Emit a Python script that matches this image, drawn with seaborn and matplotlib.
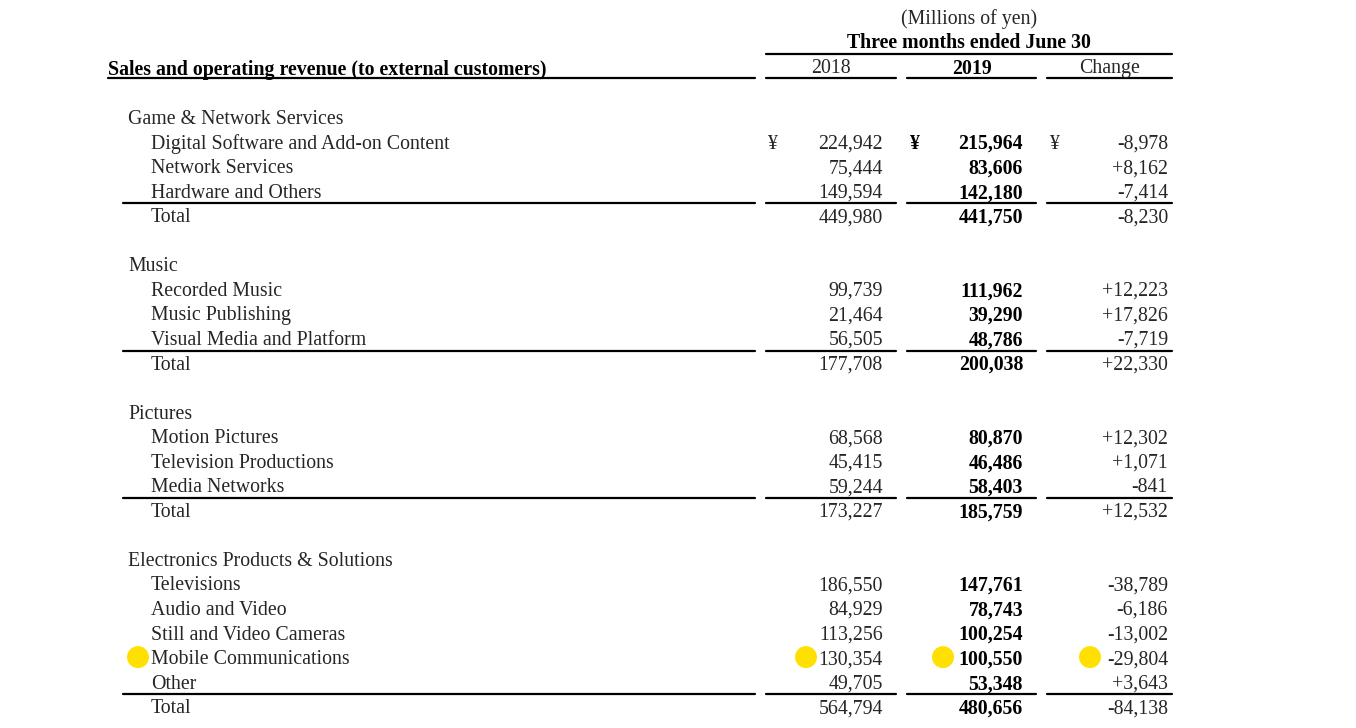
import matplotlib.pyplot as plt
import pandas as pd
import seaborn as sns

# segments and line items (Three months ended June 30, millions of yen)
segments = [
    "Game & Network Services",
    "Music",
    "Pictures",
    "Electronics Products & Solutions",
]
items = [
    ["Digital Software and Add-on Content", "Network Services", "Hardware and Others"],
    ["Recorded Music", "Music Publishing", "Visual Media and Platform"],
    ["Motion Pictures", "Television Productions", "Media Networks"],
    ["Televisions", "Audio and Video", "Still and Video Cameras",
     "Mobile Communications", "Other"],
]
sales_2018 = [
    [224942, 75444, 149594, 449980],
    [99739, 21464, 56505, 177708],
    [68568, 45415, 59244, 173227],
    [186550, 84929, 113256, 130354, 49705, 564794],
]
sales_2019 = [
    [215964, 83606, 142180, 441750],
    [111962, 39290, 48786, 200038],
    [80870, 46486, 58403, 185759],
    [147761, 78743, 100254, 100550, 53348, 480656],
]
change = [
    [-8978, 8162, -7414, -8230],
    [12223, 17826, -7719, 22330],
    [12302, 1071, -841, 12532],
    [-38789, -6186, -13002, -29804, 3643, -84138],
]
highlight = "Mobile Communications"

sns.set_theme(style="white")
plt.rcParams["font.family"] = ["Liberation Serif", "DejaVu Serif"]

fig = plt.figure(figsize=(13.56, 7.28), dpi=100)
ax = fig.add_axes([0, 0, 1, 1])

fs = 14.3
txt = "#262626"
dy = 2.5  # text centre offset
y0, step = 117, 24.55
x_seg, x_item = 128, 151
x_r = [883, 1023, 1168]
x_yen = [773, 915, 1055]
cols = [(766, 896), (907, 1036), (1047, 1172)]
lw = 1.6

# header
ax.text(969, 17 + dy, "(Millions of yen)", ha="center", va="center", fontsize=fs, color=txt)
ax.text(969, 41 + dy, "Three months ended June 30", ha="center", va="center",
        fontsize=fs, color="black", fontweight="bold")
ax.plot([766, 1172], [54, 54], color="black", lw=lw)
ax.text(108, 67 + dy, "Sales and operating revenue (to external customers)", ha="left",
        va="center", fontsize=fs, color="black", fontweight="bold")
ax.text(831, 66 + dy, "2018", ha="center", va="center", fontsize=fs, color=txt)
ax.text(972, 66 + dy, "2019", ha="center", va="center", fontsize=fs, color="black",
        fontweight="bold")
ax.text(1110, 66 + dy, "Change", ha="center", va="center", fontsize=fs, color=txt)
ax.plot([108, 755], [78, 78], color="black", lw=lw)
for a, b in cols:
    ax.plot([a, b], [78, 78], color="black", lw=lw)

dots = []
row = 0
for s, seg in enumerate(segments):
    y = y0 + row * step
    ax.text(x_seg, y + dy, seg, ha="left", va="center", fontsize=fs, color=txt)
    row += 1
    labels = items[s] + ["Total"]
    for k, lab in enumerate(labels):
        y = y0 + row * step
        ty = y + dy
        ax.text(x_item, ty, lab, ha="left", va="center", fontsize=fs, color=txt)
        ax.text(x_r[0], ty, f"{sales_2018[s][k]:,}", ha="right", va="center",
                fontsize=fs, color=txt)
        ax.text(x_r[1], ty, f"{sales_2019[s][k]:,}", ha="right", va="center",
                fontsize=fs, color="black", fontweight="bold")
        ax.text(x_r[2], ty, f"{change[s][k]:+,}", ha="right", va="center",
                fontsize=fs, color=txt)
        if s == 0 and k == 0:
            ax.text(x_yen[0], ty, "¥", ha="center", va="center", fontsize=fs, color=txt)
            ax.text(x_yen[1], ty, "¥", ha="center", va="center", fontsize=fs,
                    color="black", fontweight="bold")
            ax.text(x_yen[2], ty, "¥", ha="center", va="center", fontsize=fs, color=txt)
        if lab == "Total":
            yl = y - 12
            ax.plot([123, 755], [yl, yl], color="black", lw=lw)
            for a, b in cols:
                ax.plot([a, b], [yl, yl], color="black", lw=lw)
        if lab == highlight:
            for xd in [138, 806, 943, 1090]:
                dots.append({"x": xd, "y": y})
        row += 1
    row += 1

sns.scatterplot(data=pd.DataFrame(dots), x="x", y="y", ax=ax, color="#FFE000",
                s=250, edgecolor="none", zorder=0, legend=False)
ax.set_xlim(0, 1356)
ax.set_ylim(728, 0)
ax.axis("off")

fig.savefig("out.png", dpi=100, facecolor="white")
